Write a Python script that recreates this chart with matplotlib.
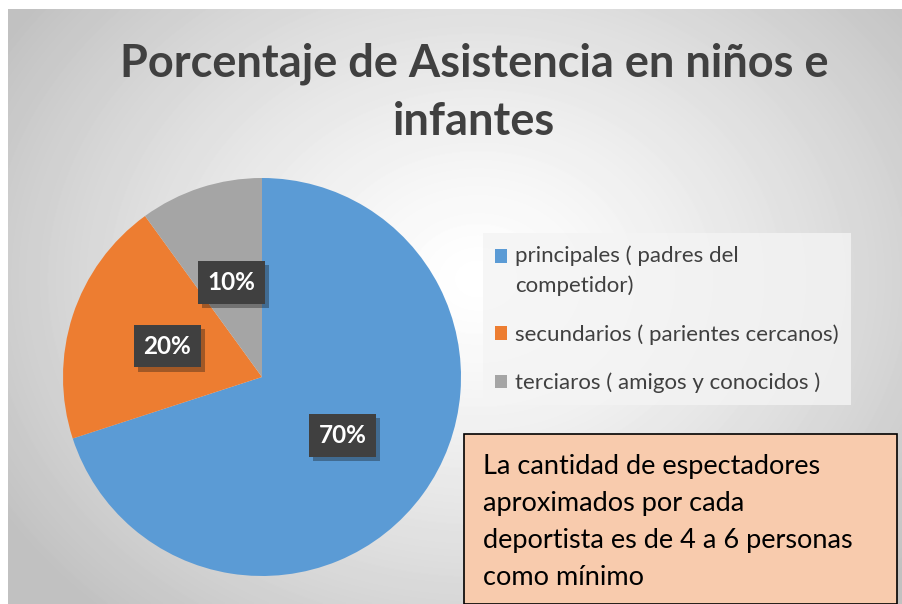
import matplotlib
matplotlib.use("Agg")
import matplotlib.pyplot as plt
import matplotlib.patheffects as pe
from matplotlib.patches import Rectangle
import numpy as np

plt.rcParams['font.family'] = ['Lato', 'DejaVu Sans']

# --- Data ---
categories = [
    "principales ( padres del\ncompetidor)",
    "secundarios ( parientes cercanos)",
    "terciaros ( amigos y conocidos )",
]
shares = [70, 20, 10]
colors = ["#5b9bd5", "#ed7d31", "#a5a5a5"]
title = "Porcentaje de Asistencia en niños e\ninfantes"
note = ("La cantidad de espectadores\naproximados por cada\n"
        "deportista es de 4 a 6 personas\ncomo mínimo")

W, H = 902, 604
fig = plt.figure(figsize=(W / 100, H / 100), dpi=100)
fig.patch.set_facecolor("white")

# --- Radial gradient background of the chart area ---
bg = fig.add_axes([8 / W, 0, (W - 8) / W, (H - 9) / H], zorder=0)
yy, xx = np.mgrid[0:595, 0:894]
d = np.hypot((xx - 470) / 520, (yy - 270) / 420)
shade = np.clip(1.0 - 0.22 * d ** 1.3, 0.76, 1.0)
bg.imshow(shade, cmap="gray", vmin=0, vmax=1, aspect="auto",
          interpolation="bilinear")
bg.set_axis_off()

# --- Title ---
fig.text(474 / W, 1 - 93 / H, title, ha="center", va="center",
         fontsize=32.5, fontweight="bold", color="#404040",
         linespacing=1.47, zorder=3)

# --- Pie ---
cx, cy, r = 262, 377, 199
ax = fig.add_axes([(cx - r) / W, 1 - (cy + r) / H, 2 * r / W, 2 * r / H],
                  zorder=2)
wedges, texts, autotexts = ax.pie(
    shares, colors=colors, startangle=90, counterclock=False,
    autopct="%1.0f%%", pctdistance=0.5,
    textprops=dict(color="white", fontsize=17.5, fontweight="bold"))
for t in autotexts:
    t.set_bbox(dict(boxstyle="square,pad=0.4", facecolor="#404040",
                    edgecolor="none"))
    t.get_bbox_patch().set_path_effects(
        [pe.SimplePatchShadow(offset=(3, -3), alpha=0.35), pe.Normal()])
ax.set_xlim(-1, 1)
ax.set_ylim(-1, 1)

# --- Legend ---
leg = fig.legend(wedges, categories, loc="upper left",
                 bbox_to_anchor=(483 / W, 1 - 233 / H),
                 frameon=True, fontsize=16, labelcolor="#404040",
                 handlelength=0.55, handleheight=0.55, handletextpad=0.35,
                 labelspacing=1.25, borderpad=0.55, borderaxespad=0)
for t in leg.get_texts():
    t.set_linespacing(1.6)
# put the marker of the two-line entry beside its first line
first = leg.legend_handles[0]
first.set_y(first.get_y() + 10.8)
leg.get_frame().set_facecolor("#f4f4f4")
leg.get_frame().set_alpha(0.8)
leg.get_frame().set_edgecolor("none")
leg.get_frame().set_boxstyle("square", pad=0)
leg.set_zorder(3)

# --- Note box ---
box = Rectangle((464 / W, 0), (897 - 464) / W, 1 - 434 / H,
                transform=fig.transFigure, facecolor="#f8cbad",
                edgecolor="black", linewidth=1.2, zorder=4)
fig.patches.append(box)
fig.text(483 / W, 1 - 454 / H, note, ha="left", va="top",
         fontsize=19.5, color="black", linespacing=1.6, zorder=5)

fig.savefig("out.png", dpi=100)
